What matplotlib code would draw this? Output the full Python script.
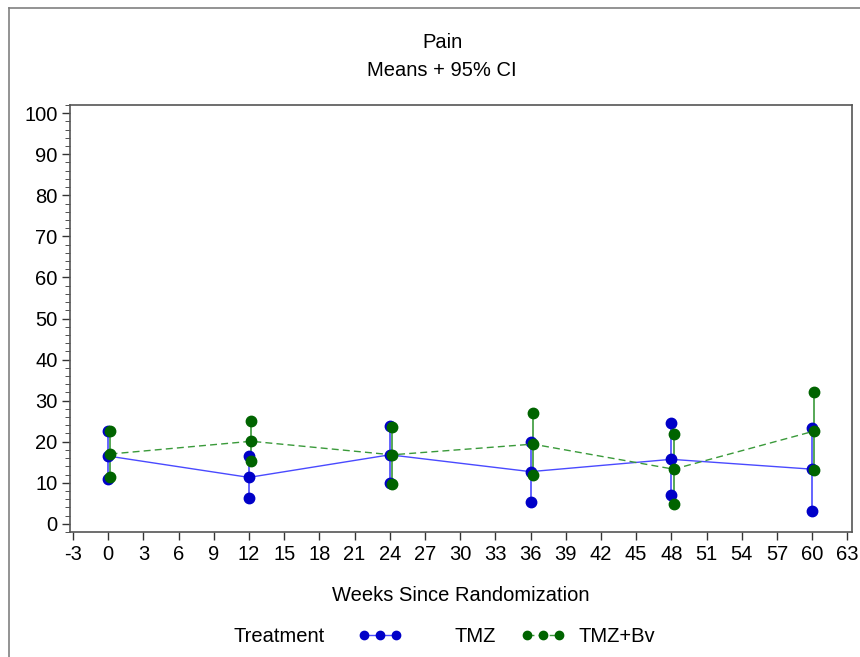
import numpy as np
import matplotlib
matplotlib.use("Agg")
import matplotlib.pyplot as plt
from matplotlib.lines import Line2D
from matplotlib.ticker import MultipleLocator

plt.rcParams['font.family'] = ['Liberation Sans', 'DejaVu Sans']
plt.rcParams['axes.unicode_minus'] = False

weeks = [0, 12, 24, 36, 48, 60]

tmz_mean = [16.5, 11.3, 16.8, 12.7, 15.7, 13.3]
tmz_lower = [10.9, 6.2, 9.9, 5.3, 6.9, 3.2]
tmz_upper = [22.5, 16.4, 23.7, 19.9, 24.6, 23.3]

bv_mean = [17.0, 20.1, 16.8, 19.4, 13.3, 22.6]
bv_lower = [11.3, 15.2, 9.8, 11.8, 4.8, 13.1]
bv_upper = [22.7, 25.1, 23.6, 26.9, 21.9, 32.0]

blue_mk, blue_ln = '#0000c8', '#4a4aff'
green_mk, green_ln = '#006400', '#3a9a3a'
FS = 14.5

fig = plt.figure(figsize=(8.6, 6.57), dpi=100)
ax = fig.add_axes([70/860, 1-532/657, (852-70)/860, (532-105)/657])

def draw(x, mean, lo, hi, mk, ln, ls):
    x = np.asarray(x, dtype=float)
    ax.vlines(x, lo, hi, color=ln, lw=1.2, zorder=2)
    ax.plot(x, lo, 'o', color=mk, ms=7.5, mec=mk, zorder=3)
    ax.plot(x, hi, 'o', color=mk, ms=7.5, mec=mk, zorder=3)
    line, = ax.plot(x, mean, color=ln, lw=1.0, ls=ls, marker='o', ms=7.5,
                    mfc=mk, mec=mk, zorder=3)
    return line

h1 = draw(weeks, tmz_mean, tmz_lower, tmz_upper, blue_mk, blue_ln, '-')
h2 = draw(np.array(weeks) + 0.2, bv_mean, bv_lower, bv_upper, green_mk, green_ln, (0, (5, 3)))

ax.set_xlim(-3.25, 63.4)
ax.set_ylim(-2, 102)
ax.set_xticks(np.arange(-3, 64, 3))
ax.set_yticks(np.arange(0, 101, 10))
ax.yaxis.set_minor_locator(MultipleLocator(2))
ax.tick_params(axis='both', labelsize=FS, color='#333333', width=1, length=6, pad=3)
ax.tick_params(axis='y', which='minor', length=3.5, color='#333333')
for s in ax.spines.values():
    s.set_color('#555555')
    s.set_linewidth(1.2)

ax.set_xlabel('Weeks Since Randomization', fontsize=FS, labelpad=16)

fig.text(0.514, 1 - 43/657, 'Pain', ha='center', va='center', fontsize=FS)
fig.text(0.514, 1 - 70/657, 'Means + 95% CI', ha='center', va='center', fontsize=FS)

ly = 1 - 637/657
fig.text(233/860, ly, 'Treatment', ha='left', va='center', fontsize=FS)
fig.legend([h1], ['TMZ'], loc='center left', bbox_to_anchor=(358/860, ly),
           frameon=False, numpoints=3, handlelength=2.2, handletextpad=2.6,
           borderaxespad=0, borderpad=0, markerscale=0.8, fontsize=FS)
fig.legend([h2], ['TMZ+Bv'], loc='center left', bbox_to_anchor=(521/860, ly),
           frameon=False, numpoints=3, handlelength=2.2, handletextpad=0.65,
           borderaxespad=0, borderpad=0, markerscale=0.8, fontsize=FS)

# outer frame
fig.add_artist(Line2D([9/860, 9/860], [0, 1 - 8/657], color='#808080', lw=1.2))
fig.add_artist(Line2D([9/860, 1], [1 - 8/657, 1 - 8/657], color='#808080', lw=1.2))

fig.savefig('out.png', dpi=100)
